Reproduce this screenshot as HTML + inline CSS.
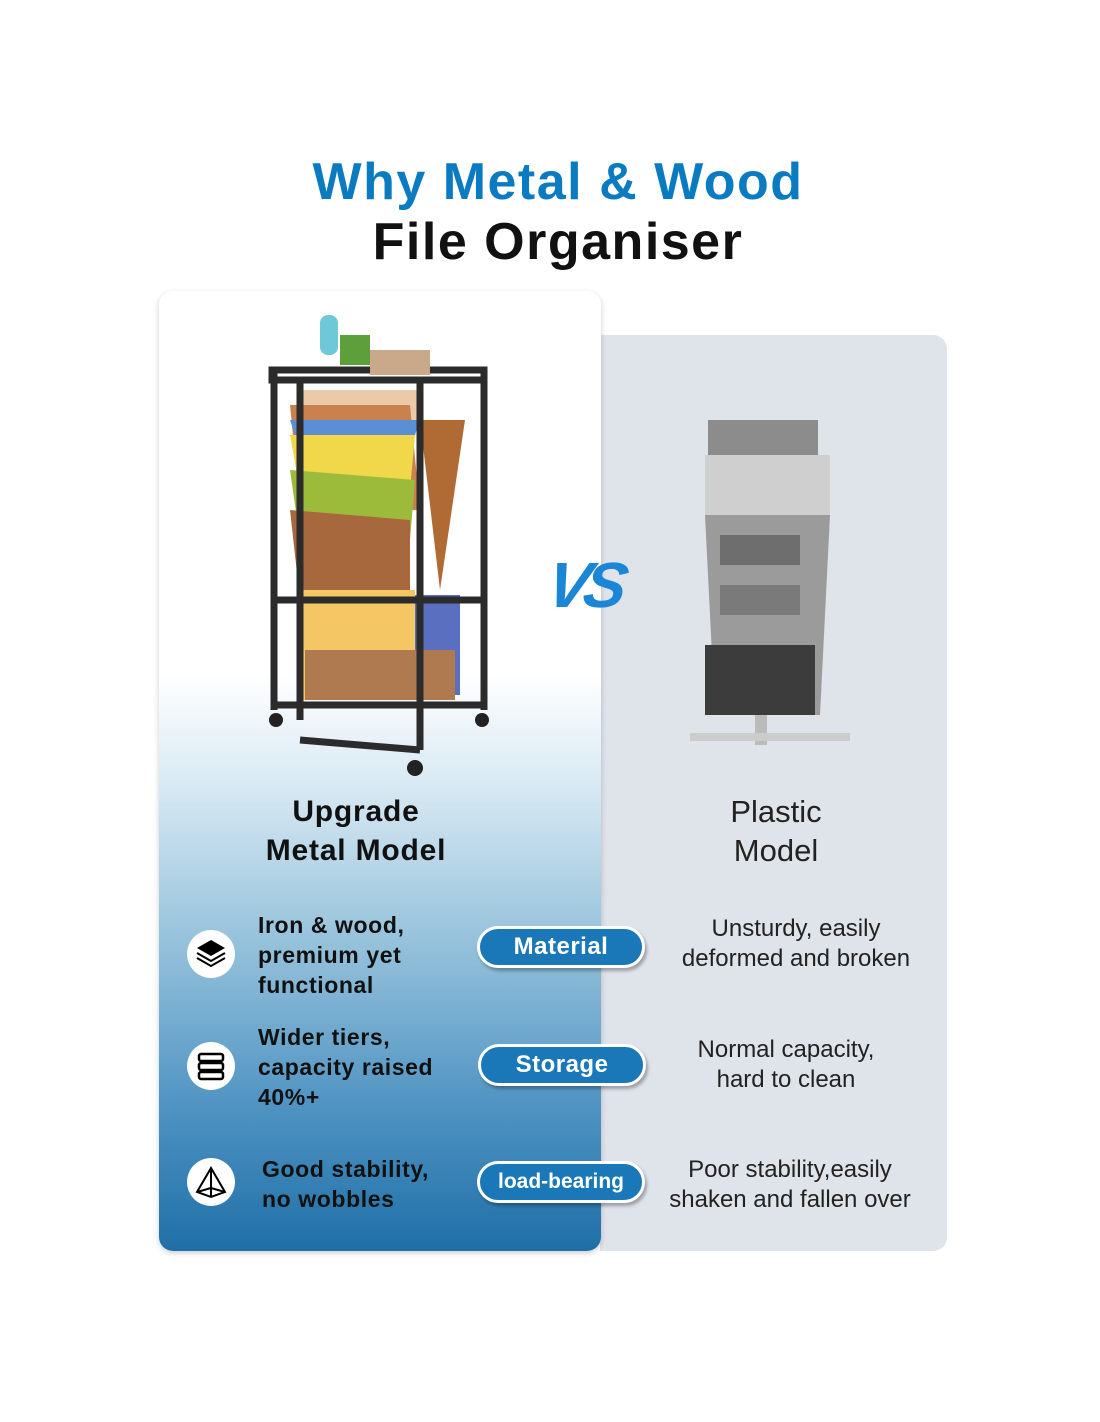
<!DOCTYPE html>
<html><head><meta charset="utf-8"><style>
*{margin:0;padding:0;box-sizing:border-box}
body{width:1100px;height:1422px;background:#fff;position:relative;font-family:"Liberation Sans",sans-serif;overflow:hidden}
.a{position:absolute}
.t{font-weight:bold;font-size:52px;text-align:center;width:1100px;left:8px;letter-spacing:1.5px}
.pill{position:absolute;height:42px;border-radius:22px;background:#1a78b8;border:3px solid #fff;box-shadow:2px 3px 3px rgba(0,0,0,.3);color:#fff;font-weight:bold;text-align:center;line-height:36px;letter-spacing:0.5px}
.ic{position:absolute;width:48px;height:48px;border-radius:50%;background:#fff}
.lt{position:absolute;font-weight:bold;font-size:23px;line-height:30px;color:#111;letter-spacing:0.6px}
.rt{position:absolute;font-size:24px;line-height:30px;color:#222;text-align:center}
</style></head><body>
<div class="a t" style="top:152px;color:#0a7bc0">Why Metal &amp; Wood</div>
<div class="a t" style="top:212px;color:#111">File Organiser</div>

<div class="a" style="left:600px;top:335px;width:347px;height:916px;background:#dfe3ea;border-radius:0 14px 14px 0"></div>
<div class="a" style="left:159px;top:291px;width:442px;height:960px;border-radius:14px;background:linear-gradient(180deg,#fff 0%,#fff 40%,#d6e8f2 52%,#8dbcd8 70%,#4f93c2 85%,#1f6fa7 100%);box-shadow:0 2px 6px rgba(0,0,0,.2)"></div>

<svg class="a" style="left:260px;top:310px" width="235" height="470">
<rect x="40" y="80" width="120" height="30" fill="#ecc9a8"/>
<polygon points="30,95 150,95 160,200 40,200" fill="#c9824e"/>
<polygon points="30,110 160,110 150,140 40,140" fill="#5a8fd6"/>
<polygon points="30,125 155,125 150,180 40,180" fill="#f0d84a"/>
<polygon points="30,160 155,170 150,230 40,230" fill="#9dbb3a"/>
<polygon points="30,200 150,210 150,280 40,290" fill="#a8683d"/>
<polygon points="160,110 205,110 180,280" fill="#b06a33"/>
<rect x="40" y="280" width="115" height="110" fill="#f4c664"/>
<rect x="155" y="285" width="45" height="100" fill="#5a6fc0"/>
<rect x="45" y="340" width="150" height="50" fill="#b07a50"/>
<g stroke="#2b2b2b" stroke-width="7" fill="none">
<rect x="12" y="60" width="212" height="10"/>
<line x1="14" y1="60" x2="14" y2="400"/><line x1="224" y1="60" x2="224" y2="400"/>
<line x1="160" y1="70" x2="160" y2="440"/><line x1="40" y1="70" x2="40" y2="410"/>
<line x1="14" y1="290" x2="224" y2="290"/><line x1="14" y1="395" x2="224" y2="395"/>
<line x1="40" y1="430" x2="160" y2="440"/>
</g>
<circle cx="16" cy="410" r="7" fill="#222"/><circle cx="222" cy="410" r="7" fill="#222"/><circle cx="155" cy="458" r="8" fill="#222"/>
<rect x="60" y="5" width="18" height="40" rx="8" fill="#6fc8d8"/>
<rect x="80" y="25" width="30" height="30" fill="#5d9f3a"/>
<rect x="110" y="40" width="60" height="25" fill="#c9a98a"/>
</svg>

<svg class="a" style="left:680px;top:415px" width="185" height="350">
<rect x="28" y="5" width="110" height="35" fill="#8c8c8c"/>
<rect x="25" y="40" width="125" height="60" fill="#cfcfcf"/>
<polygon points="25,100 150,100 140,300 35,300" fill="#9b9b9b"/>
<rect x="40" y="120" width="80" height="30" fill="#6e6e6e"/>
<rect x="40" y="170" width="80" height="30" fill="#7a7a7a"/>
<rect x="25" y="230" width="110" height="70" fill="#3c3c3c"/>
<rect x="75" y="300" width="12" height="30" fill="#bbb"/>
<rect x="10" y="318" width="160" height="8" fill="#ccc"/>
</svg>

<div class="a" style="left:548px;top:548px;font-size:64px;font-weight:bold;font-style:italic;color:#1c86d6;letter-spacing:-6px;transform:skewX(-10deg)">VS</div>

<div class="a" style="left:200px;top:792px;width:312px;text-align:center;font-size:30px;font-weight:bold;line-height:39px;color:#111;letter-spacing:0.8px">Upgrade<br>Metal Model</div>
<div class="a" style="left:640px;top:792px;width:272px;text-align:center;font-size:31px;line-height:39px;color:#222">Plastic<br>Model</div>

<div class="ic" style="left:187px;top:930px"></div>
<svg class="a" style="left:193px;top:936px" width="36" height="36"><polygon points="18,4 32,12 18,20 4,12" fill="#000"/><path d="M4,17 18,25 32,17 M4,22 18,30 32,22" stroke="#000" stroke-width="2" fill="none"/></svg>
<div class="ic" style="left:187px;top:1042px"></div>
<svg class="a" style="left:195px;top:1050px" width="32" height="32"><g stroke="#000" stroke-width="2.5" fill="none"><rect x="4" y="4" width="24" height="7" rx="2"/><rect x="4" y="13" width="24" height="7" rx="2"/><rect x="4" y="22" width="24" height="7" rx="2"/></g></svg>
<div class="ic" style="left:187px;top:1158px"></div>
<svg class="a" style="left:193px;top:1164px" width="36" height="36"><g stroke="#000" stroke-width="2" fill="none"><polygon points="18,4 4,28 18,33 32,28"/><line x1="18" y1="4" x2="18" y2="33"/><line x1="4" y1="28" x2="18" y2="24"/><line x1="32" y1="28" x2="18" y2="24"/></g></svg>

<div class="lt" style="left:258px;top:910px">Iron &amp; wood,<br>premium yet<br>functional</div>
<div class="lt" style="left:258px;top:1022px">Wider tiers,<br>capacity raised<br>40%+</div>
<div class="lt" style="left:262px;top:1154px">Good stability,<br>no wobbles</div>

<div class="pill" style="left:477px;top:926px;width:168px;font-size:24px">Material</div>
<div class="pill" style="left:478px;top:1044px;width:168px;font-size:24px">Storage</div>
<div class="pill" style="left:477px;top:1161px;width:168px;font-size:21px;letter-spacing:0">load-bearing</div>

<div class="rt" style="left:650px;top:914px;width:292px">Unsturdy, easily<br>deformed and broken</div>
<div class="rt" style="left:640px;top:1035px;width:292px">Normal capacity,<br>hard to clean</div>
<div class="rt" style="left:640px;top:1155px;width:300px">Poor stability,easily<br>shaken and fallen over</div>
</body></html>
